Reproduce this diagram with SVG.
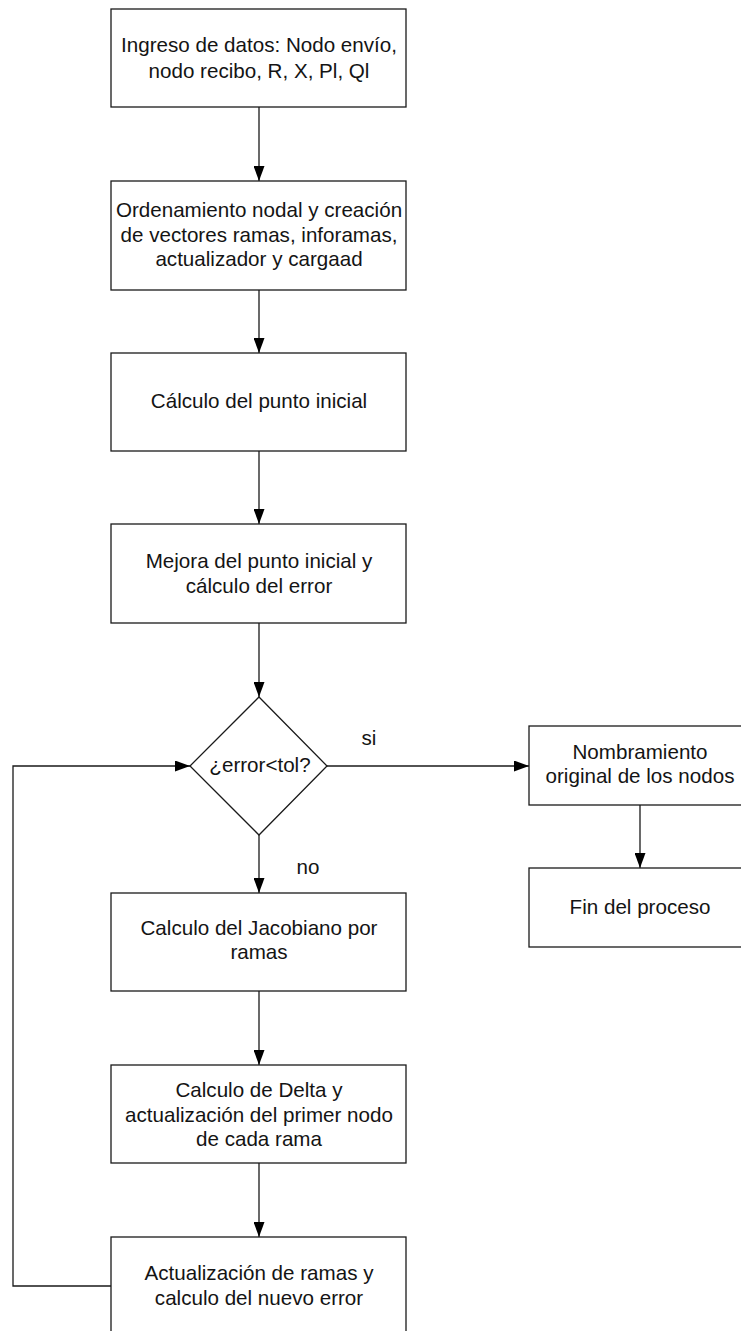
<svg xmlns="http://www.w3.org/2000/svg" width="741" height="1331" viewBox="0 0 741 1331">
  <style>
    .box { fill: #ffffff; stroke: #1a1a1a; stroke-width: 1.3; }
    .edge { fill: none; stroke: #1a1a1a; stroke-width: 1.3; }
    text { font-family: "Liberation Sans", Arial, sans-serif; font-size: 20.6px; fill: #141414; text-anchor: middle; }
  </style>
  <defs>
    <marker id="arrow" viewBox="0 0 15 11" refX="15" refY="5.5" markerWidth="15" markerHeight="11" markerUnits="userSpaceOnUse" orient="auto">
      <path d="M0,0 L15,5.5 L0,11 Z" fill="#000000"/>
    </marker>
  </defs>
  <rect width="741" height="1331" fill="#ffffff"/>

  <!-- connectors -->
  <g id="connectors">
    <line class="edge" x1="259" y1="107" x2="259" y2="181" marker-end="url(#arrow)"/>
    <line class="edge" x1="259" y1="290" x2="259" y2="353" marker-end="url(#arrow)"/>
    <line class="edge" x1="259" y1="451" x2="259" y2="524" marker-end="url(#arrow)"/>
    <line class="edge" x1="259" y1="623" x2="259" y2="697" marker-end="url(#arrow)"/>
    <line class="edge" x1="259" y1="835" x2="259" y2="893" marker-end="url(#arrow)"/>
    <line class="edge" x1="259" y1="991" x2="259" y2="1065" marker-end="url(#arrow)"/>
    <line class="edge" x1="259" y1="1163" x2="259" y2="1237" marker-end="url(#arrow)"/>
    <line class="edge" x1="327" y1="766" x2="529" y2="766" marker-end="url(#arrow)"/>
    <line class="edge" x1="640" y1="805" x2="640" y2="868" marker-end="url(#arrow)"/>
    <polyline class="edge" points="111,1286 13,1286 13,766 190,766" marker-end="url(#arrow)"/>
    <text x="369" y="745">si</text>
    <text x="308" y="874">no</text>
  </g>

  <g id="n1">
    <rect class="box" x="111" y="9" width="295" height="98"/>
    <text x="259" y="52">Ingreso de datos: Nodo envío,</text>
    <text x="259" y="78">nodo recibo, R, X, Pl, Ql</text>
  </g>

  <g id="n2">
    <rect class="box" x="111" y="181" width="295" height="109"/>
    <text x="259" y="217">Ordenamiento nodal y creación</text>
    <text x="259" y="242">de vectores ramas, inforamas,</text>
    <text x="259" y="266">actualizador y cargaad</text>
  </g>

  <g id="n3">
    <rect class="box" x="111" y="353" width="295" height="98"/>
    <text x="259" y="408">Cálculo del punto inicial</text>
  </g>

  <g id="n4">
    <rect class="box" x="111" y="524" width="295" height="99"/>
    <text x="259" y="568">Mejora del punto inicial y</text>
    <text x="259" y="593">cálculo del error</text>
  </g>

  <g id="decision">
    <polygon class="box" points="259,697 327,766 259,835 190,766"/>
    <text x="260" y="772">¿error&lt;tol?</text>
  </g>

  <g id="n5">
    <rect class="box" x="111" y="893" width="295" height="98"/>
    <text x="259" y="935">Calculo del Jacobiano por</text>
    <text x="259" y="959">ramas</text>
  </g>

  <g id="n6">
    <rect class="box" x="111" y="1065" width="295" height="98"/>
    <text x="259" y="1097">Calculo de Delta y</text>
    <text x="259" y="1122">actualización del primer nodo</text>
    <text x="259" y="1146">de cada rama</text>
  </g>

  <g id="n7">
    <rect class="box" x="111" y="1237" width="295" height="98"/>
    <text x="259" y="1280">Actualización de ramas y</text>
    <text x="259" y="1305">calculo del nuevo error</text>
  </g>

  <g id="r1">
    <rect class="box" x="529" y="726" width="222" height="79"/>
    <text x="640" y="759">Nombramiento</text>
    <text x="640" y="783">original de los nodos</text>
  </g>

  <g id="r2">
    <rect class="box" x="529" y="868" width="222" height="79"/>
    <text x="640" y="914">Fin del proceso</text>
  </g>
</svg>
